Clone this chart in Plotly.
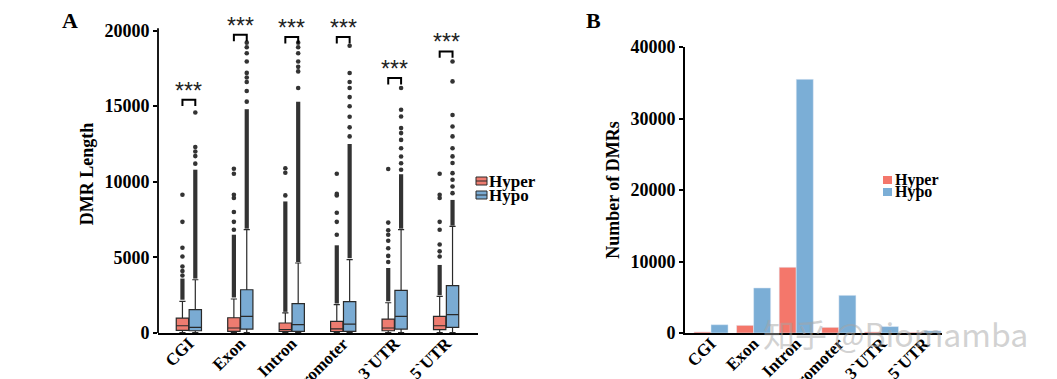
import plotly.graph_objects as go

# ---------------- data ----------------
categories = ["CGI", "Exon", "Intron", "Promoter", "3`UTR", "5`UTR"]
series_names = ["Hyper", "Hypo"]

# Panel A : DMR length box statistics
hyper_q1 = [170, 110, 100, 100, 150, 220]
hyper_median = [480, 330, 220, 270, 330, 480]
hyper_q3 = [990, 1010, 660, 770, 920, 1100]
hyper_lowerfence = [20, 20, 20, 20, 20, 20]
hyper_upperfence = [2090, 2250, 1330, 1870, 2000, 2420]
hyper_dense_lo = [2200, 2350, 1400, 1950, 2100, 2500]
hyper_dense_hi = [3600, 6500, 8700, 5800, 4300, 4500]
hyper_outliers = [
    [3800, 4100, 4400, 5060, 5640, 7350, 9140],
    [6830, 7350, 8000, 8930, 9140, 10530, 10860],
    [9100, 10600, 10900],
    [6500, 7350, 7950, 9100, 9200, 10530],
    [4700, 5100, 5600, 6100, 6500, 6800, 7300, 10850],
    [5060, 5400, 5850, 6830, 7350, 8930, 9140, 10530],
]

hypo_q1 = [150, 260, 110, 110, 260, 370]
hypo_median = [370, 1100, 550, 590, 1100, 1210]
hypo_q3 = [1540, 2860, 1940, 2070, 2820, 3130]
hypo_lowerfence = [20, 20, 20, 20, 20, 20]
hypo_upperfence = [3520, 6830, 4630, 4850, 6830, 7050]
hypo_dense_lo = [3600, 6900, 4700, 4950, 6900, 7100]
hypo_dense_hi = [10800, 14800, 15300, 12500, 10500, 8800]
hypo_outliers = [
    [11200, 11700, 12000, 12300, 14580],
    [15300, 16000, 16600, 16900, 17200, 17950, 18500, 18900, 19200],
    [16200, 17300, 17600, 17950, 18500, 18900, 19200],
    [13000, 13600, 14300, 15000, 15600, 16200, 16600, 17190, 19000],
    [10800, 11230, 11670, 12220, 12770, 13220, 13550, 14320, 14760, 16200],
    [9250, 9690, 10130, 10570, 11240, 11680, 12220, 13000, 13660, 14420, 16640, 17950],
]

# significance brackets (top of bracket, DMR length units)
sig_level = [15430, 19720, 19570, 19570, 16860, 18620]
sig_label = ["***", "***", "***", "***", "***", "***"]

# Panel B : number of DMRs
hyper_counts = [150, 1070, 9190, 790, 150, 100]
hypo_counts = [1160, 6300, 35480, 5270, 900, 300]

# ---------------- style ----------------
RED_BOX = "#EE7C70"
BLUE_BOX = "#7AABD3"
RED_BAR = "#F4776B"
BLUE_BAR = "#7BAED6"
DARK = "#2a2a2a"
SERIF = "Liberation Serif"
OFF = 0.125
BOXW = 0.24

# the page body adds an 8 px margin: the figure is sized/positioned to compensate
PAGE = 8
W, H = 1057 - PAGE, 379 - PAGE
MT, MB = 15 - PAGE, 46
PH = H - MT - MB


def px_x(p):
    """screen x pixel -> paper fraction"""
    return (p - PAGE) / W


def px_y(p):
    """screen y pixel -> paper fraction"""
    return (H - MB - (p - PAGE)) / PH


idx = list(range(len(categories)))
x_hyper = [i - OFF for i in idx]
x_hypo = [i + OFF for i in idx]

fig = go.Figure()

# ---------- Panel A boxes ----------
for name, xs, q1, med, q3, lf, uf, col in [
    (series_names[0], x_hyper, hyper_q1, hyper_median, hyper_q3, hyper_lowerfence, hyper_upperfence, RED_BOX),
    (series_names[1], x_hypo, hypo_q1, hypo_median, hypo_q3, hypo_lowerfence, hypo_upperfence, BLUE_BOX),
]:
    fig.add_trace(go.Box(
        name=name, x=xs, q1=q1, median=med, q3=q3,
        lowerfence=lf, upperfence=uf, width=BOXW,
        fillcolor=col, line=dict(color=DARK, width=1.2),
        boxpoints=False, xaxis="x", yaxis="y", showlegend=False,
    ))

# dense outlier columns (drawn as thick segments) and sparse outliers
for xs, lo, hi, outs in [
    (x_hyper, hyper_dense_lo, hyper_dense_hi, hyper_outliers),
    (x_hypo, hypo_dense_lo, hypo_dense_hi, hypo_outliers),
]:
    for x0, a, b, o in zip(xs, lo, hi, outs):
        fig.add_trace(go.Scatter(
            x=[x0, x0], y=[a, b], mode="lines",
            line=dict(color="#333333", width=4.2),
            showlegend=False, hoverinfo="skip", xaxis="x", yaxis="y",
        ))
        fig.add_trace(go.Scatter(
            x=[x0] * len(o), y=o, mode="markers",
            marker=dict(color="#333333", size=4.6),
            showlegend=False, hoverinfo="skip", xaxis="x", yaxis="y",
        ))

# significance brackets
LEG = 420
for xa, xb, lvl, lab in zip(x_hyper, x_hypo, sig_level, sig_label):
    fig.add_trace(go.Scatter(
        x=[xa, xa, xb, xb], y=[lvl - LEG, lvl, lvl, lvl - LEG], mode="lines",
        line=dict(color="black", width=2),
        showlegend=False, hoverinfo="skip", xaxis="x", yaxis="y",
    ))
    fig.add_annotation(
        x=(xa + xb) / 2, y=lvl, xref="x", yref="y", text=lab, showarrow=False,
        xanchor="center", yanchor="bottom", yshift=-6,
        font=dict(family="Liberation Sans", size=23, color="#222222"),
    )

# ---------- Panel B bars ----------
fig.add_trace(go.Bar(name=series_names[0], x=idx, y=hyper_counts, marker_color=RED_BAR,
                     xaxis="x2", yaxis="y2", showlegend=False))
fig.add_trace(go.Bar(name=series_names[1], x=idx, y=hypo_counts, marker_color=BLUE_BAR,
                     xaxis="x2", yaxis="y2", showlegend=False))

tickfont = dict(family=SERIF, size=18, color="black", weight="bold")
xtickfont = dict(family=SERIF, size=17, color="black", weight="bold")
titlefont = dict(family=SERIF, size=18, color="black", weight="bold")

fig.update_layout(
    width=W, height=H,
    margin=dict(l=0, r=0, t=MT, b=MB, autoexpand=False),
    plot_bgcolor="white", paper_bgcolor="white",
    barmode="group", bargap=0.2, bargroupgap=0,
    showlegend=False,
    xaxis=dict(domain=[px_x(158), px_x(478)], range=[-0.6, 5.62],
               tickvals=idx, ticktext=categories, tickangle=-45, automargin=False,
               ticklabelstandoff=-8,
               showline=True, linecolor="black", linewidth=1.8,
               showgrid=False, zeroline=False, ticks="", tickfont=xtickfont),
    yaxis=dict(domain=[0, 1], range=[0, 21030], automargin=False,
               tickvals=[0, 5000, 10000, 15000, 20000], tickformat="d",
               showline=False, showgrid=False, zeroline=False,
               ticks="outside", ticklen=4, tickwidth=1.5, tickcolor="black",
               tickfont=tickfont,
               title=dict(text="DMR Length", font=titlefont, standoff=6)),
    xaxis2=dict(domain=[px_x(685), px_x(942)], range=[-0.61, 5.42],
                tickvals=idx, ticktext=categories, tickangle=-45, automargin=False,
                ticklabelstandoff=-8,
                showline=True, linecolor="black", linewidth=1.8,
                showgrid=False, zeroline=False, ticks="", tickfont=xtickfont,
                anchor="y2"),
    yaxis2=dict(domain=[0, px_y(47)], range=[0, 40000], automargin=False,
                tickvals=[0, 10000, 20000, 30000, 40000], tickformat="d",
                showline=True, linecolor="black", linewidth=1.8,
                showgrid=False, zeroline=False,
                ticks="outside", ticklen=4, tickwidth=1.5, tickcolor="black",
                tickfont=tickfont, anchor="x2",
                title=dict(text="Number of DMRs", font=titlefont, standoff=6)),
)

# y axis line of panel A (stops at 20000)
fig.add_shape(type="line", xref="x domain", yref="y", x0=0, x1=0, y0=0, y1=20150,
              line=dict(color="black", width=1.8))

# ---------- legends (drawn manually to match the compact keys) ----------
legfont_a = dict(family=SERIF, size=17, color="black", weight="bold")
legfont_b = dict(family=SERIF, size=16, color="black", weight="bold")
# panel A keys: small boxes with a median line
for name, col, ytop in [(series_names[0], RED_BOX, 177), (series_names[1], BLUE_BOX, 191)]:
    fig.add_shape(type="rect", xref="paper", yref="paper",
                  x0=px_x(476), x1=px_x(487), y0=px_y(ytop + 8), y1=px_y(ytop),
                  fillcolor=col, line=dict(color=DARK, width=1))
    fig.add_shape(type="line", xref="paper", yref="paper",
                  x0=px_x(476), x1=px_x(487), y0=px_y(ytop + 4), y1=px_y(ytop + 4),
                  line=dict(color=DARK, width=1))
    fig.add_annotation(x=px_x(487), y=px_y(ytop + 4), xref="paper", yref="paper",
                       text=name, showarrow=False, xanchor="left", yanchor="middle",
                       font=legfont_a)
# panel B keys: squares
for name, col, ytop in [(series_names[0], RED_BAR, 176), (series_names[1], BLUE_BAR, 188)]:
    fig.add_shape(type="rect", xref="paper", yref="paper",
                  x0=px_x(883), x1=px_x(892), y0=px_y(ytop + 8), y1=px_y(ytop),
                  fillcolor=col, line=dict(width=0))
    fig.add_annotation(x=px_x(893), y=px_y(ytop + 4), xref="paper", yref="paper",
                       text=name, showarrow=False, xanchor="left", yanchor="middle",
                       font=legfont_b)

# panel letters
fig.add_annotation(x=px_x(70), y=px_y(20), xref="paper", yref="paper", text="A",
                   showarrow=False, xanchor="center", yanchor="middle",
                   font=dict(family=SERIF, size=22, color="black", weight="bold"))
fig.add_annotation(x=px_x(593), y=px_y(20), xref="paper", yref="paper", text="B",
                   showarrow=False, xanchor="center", yanchor="middle",
                   font=dict(family=SERIF, size=22, color="black", weight="bold"))

# watermark
fig.add_annotation(x=px_x(895), y=px_y(333), xref="paper", yref="paper", text="知乎 @Biomamba",
                   showarrow=False, xanchor="center", yanchor="middle",
                   font=dict(family="Noto Sans CJK SC", size=32, color="rgba(165,165,165,0.5)"))

fig.write_html("out.html")
